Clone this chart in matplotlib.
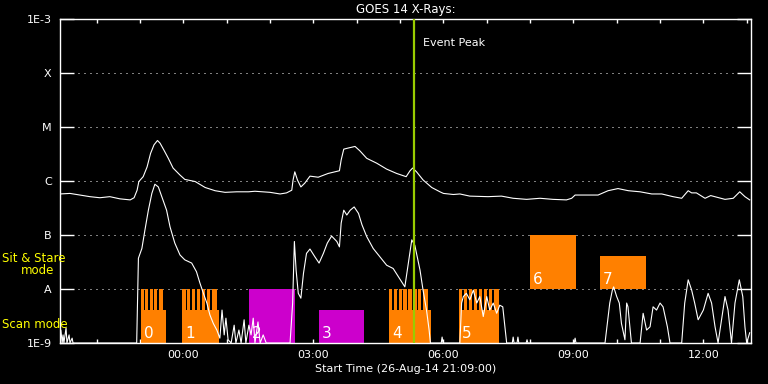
import numpy as np
import matplotlib
matplotlib.use("Agg")
import matplotlib.pyplot as plt
from matplotlib.patches import Rectangle

# time axis: hours after start time 26-Aug-14 21:09:00
start_label = "Start Time (26-Aug-14 21:09:00)"
start_hour, start_min = 21, 9
t_max = 15.95

# GOES long channel (1-8 A), log10 flux in W/m^2
long_t = [0.00, 0.23, 0.46, 0.69, 0.92, 1.15, 1.38, 1.62, 1.71, 1.78, 1.82, 1.92, 2.01, 2.09,
          2.17, 2.25, 2.31, 2.40, 2.50, 2.61, 2.77, 2.88, 3.12, 3.35, 3.58, 3.81, 4.08, 4.35,
          4.50, 4.85, 5.08, 5.23, 5.35, 5.38, 5.42, 5.48, 5.56, 5.65, 5.77, 5.96, 6.19, 6.45,
          6.49, 6.55, 6.65, 6.81, 6.92, 7.08, 7.31, 7.54, 7.77, 7.99, 8.08, 8.14, 8.23, 8.38,
          8.58, 8.77, 8.85, 9.08, 9.23, 9.46, 9.88, 10.19, 10.46, 10.77, 11.08, 11.38, 11.69,
          11.81, 11.89, 12.23, 12.42, 12.65, 12.88, 13.12, 13.39, 13.66, 13.89, 14.15, 14.35,
          14.50, 14.58, 14.69, 14.89, 15.02, 15.16, 15.35, 15.54, 15.69, 15.81, 15.92]
long_log = [-6.24, -6.23, -6.26, -6.29, -6.31, -6.29, -6.33, -6.35, -6.31, -6.17, -6.01, -5.92,
            -5.74, -5.49, -5.33, -5.25, -5.30, -5.43, -5.58, -5.76, -5.89, -5.97, -6.01, -6.12,
            -6.18, -6.21, -6.20, -6.20, -6.19, -6.21, -6.24, -6.22, -6.17, -5.98, -5.83, -5.98,
            -6.11, -6.04, -5.91, -5.93, -5.86, -5.81, -5.61, -5.41, -5.39, -5.36, -5.44, -5.58,
            -5.67, -5.78, -5.86, -5.92, -5.81, -5.76, -5.83, -5.98, -6.12, -6.20, -6.23, -6.25,
            -6.24, -6.28, -6.29, -6.28, -6.32, -6.34, -6.32, -6.34, -6.35, -6.32, -6.26, -6.26,
            -6.26, -6.18, -6.14, -6.18, -6.20, -6.24, -6.24, -6.29, -6.32, -6.18, -6.22, -6.22,
            -6.32, -6.27, -6.30, -6.34, -6.32, -6.20, -6.29, -6.35]

# GOES short channel (0.5-4 A), log10 flux in W/m^2
short_t = [0.00, 0.02, 0.05, 0.07, 0.09, 0.14, 0.16, 0.21, 0.23, 0.28, 0.30, 1.77, 1.81, 1.89,
           1.96, 2.04, 2.12, 2.19, 2.27, 2.35, 2.46, 2.54, 2.65, 2.77, 2.88, 3.04, 3.15, 3.23,
           3.31, 3.39, 3.46, 3.54, 3.62, 3.69, 3.74, 3.79, 3.83, 3.88, 3.95, 4.02, 4.06, 4.13,
           4.18, 4.25, 4.29, 4.36, 4.41, 4.46, 4.50, 4.57, 4.62, 4.69, 4.76, 5.31, 5.37, 5.41,
           5.45, 5.50, 5.56, 5.62, 5.69, 5.77, 5.88, 5.98, 6.08, 6.17, 6.27, 6.39, 6.45, 6.49,
           6.55, 6.62, 6.70, 6.79, 6.89, 6.97, 7.08, 7.23, 7.38, 7.54, 7.69, 7.81, 7.96, 8.04,
           8.12, 8.19, 8.31, 8.38, 8.46, 8.52, 8.55, 8.80, 8.82, 8.84, 9.23, 9.27, 9.31, 9.38,
           9.46, 9.54, 9.62, 9.69, 9.77, 9.85, 9.92, 10.00, 10.08, 10.15, 10.22, 10.27, 10.31,
           10.44, 10.46, 10.48, 10.55, 10.57, 10.59, 10.76, 10.78, 10.80, 11.87, 11.89, 11.91,
           12.58, 12.69, 12.75, 12.78, 12.85, 12.91, 12.96, 13.04, 13.08, 13.11, 13.19, 13.39,
           13.46, 13.54, 13.62, 13.69, 13.77, 13.85, 13.92, 14.02, 14.08, 14.35, 14.42, 14.50,
           14.58, 14.65, 14.73, 14.85, 14.96, 15.04, 15.12, 15.19, 15.27, 15.35, 15.42, 15.50,
           15.58, 15.68, 15.76, 15.81, 15.85, 15.92]
short_log = [-9.00, -8.76, -9.00, -8.85, -9.00, -8.72, -9.00, -8.85, -9.00, -8.91, -9.00, -9.00,
             -7.43, -7.25, -6.91, -6.54, -6.23, -6.06, -6.11, -6.29, -6.54, -6.85, -7.15, -7.37,
             -7.46, -7.52, -7.68, -7.89, -8.08, -8.26, -8.48, -8.64, -8.76, -8.91, -8.39, -8.85,
             -8.54, -8.94, -9.00, -8.67, -9.00, -8.76, -9.00, -8.57, -9.00, -8.67, -8.85, -8.54,
             -9.00, -8.61, -9.00, -8.85, -9.00, -9.00, -8.26, -7.12, -7.65, -8.08, -8.17, -7.71,
             -7.34, -7.26, -7.40, -7.52, -7.34, -7.15, -7.02, -7.12, -7.22, -6.78, -6.54, -6.63,
             -6.54, -6.48, -6.60, -6.81, -7.03, -7.25, -7.40, -7.56, -7.62, -7.77, -7.96, -7.52,
             -7.09, -7.19, -7.65, -8.02, -8.39, -8.76, -9.00, -9.00, -8.89, -9.00, -9.00, -8.26,
             -8.14, -8.08, -8.20, -8.02, -8.26, -8.14, -8.51, -8.14, -8.39, -8.26, -8.45, -8.30,
             -8.33, -8.70, -9.00, -9.00, -8.89, -9.00, -9.00, -8.89, -9.00, -9.00, -8.94, -9.00,
             -9.00, -8.91, -9.00, -9.00, -8.26, -8.02, -7.96, -8.14, -8.26, -8.64, -8.94, -8.26,
             -8.33, -9.00, -9.00, -8.45, -8.76, -8.70, -8.33, -8.39, -8.26, -8.33, -8.70, -9.00,
             -9.00, -8.26, -7.83, -8.02, -8.26, -8.57, -8.39, -8.08, -8.26, -8.70, -9.00, -8.57,
             -8.14, -8.39, -9.00, -8.26, -7.83, -8.14, -8.70, -9.00, -8.81]

event_peak_t = 8.16

# scan mode blocks (orange, stepped)
scan_labels = ["0", "1", "4", "5"]
scan_start = [1.87, 2.82, 7.59, 9.21]
scan_comb_end = [2.38, 3.62, 8.49, 10.13]
scan_end = [2.45, 3.66, 8.56, 10.13]
scan_steps = [5, 7, 8, 8]
scan_low_top = 4.0e-9
scan_top = 1.0e-8

# other observation blocks
other_labels = ["2", "3", "6", "7"]
other_start = [4.36, 5.98, 10.85, 12.46]
other_end = [5.42, 7.01, 11.91, 13.52]
other_bottom = [1e-9, 1e-9, 1e-8, 1e-8]
other_top = [1e-8, 4.0e-9, 1e-7, 4.07e-8]
other_color = ["#cc00cc", "#cc00cc", "#ff8000", "#ff8000"]

y_ticks = [1e-9, 1e-8, 1e-7, 1e-6, 1e-5, 1e-4, 1e-3]
y_ticklabels = ["1E-9", "A", "B", "C", "M", "X", "1E-3"]

ORANGE = "#ff8000"
plt.rcParams["font.family"] = ["DejaVu Sans"]

fig = plt.figure(figsize=(7.68, 3.84), dpi=100, facecolor="black")
ax = fig.add_axes([60 / 768, 41 / 384, 691 / 768, 324 / 384], facecolor="black")
ax.set_yscale("log")
ax.set_xlim(0, t_max)
ax.set_ylim(1e-9, 1e-3)

# dotted lines at the flare class levels
for yv in y_ticks[1:-1]:
    ax.axhline(yv, color="white", lw=0.72, ls=(0, (1, 5)), zorder=1)

# scan mode blocks: comb on top, solid part below
for lab, s, ce, e, n in zip(scan_labels, scan_start, scan_comb_end, scan_end, scan_steps):
    ax.add_patch(Rectangle((s, 1e-9), e - s, scan_low_top - 1e-9, color=ORANGE, lw=0,
                           antialiased=False, zorder=2))
    step = (ce - s) / n
    for k in range(n):
        x0 = s + k * step
        w = step * 0.68 if k < n - 1 else step
        ax.add_patch(Rectangle((x0, scan_low_top), w, scan_top - scan_low_top,
                               color=ORANGE, lw=0, antialiased=False, zorder=2))
    ax.text(s + 0.07, 1.25e-9, lab, color="white", fontsize=11, zorder=5)

for lab, s, e, b, tp, c in zip(other_labels, other_start, other_end, other_bottom, other_top, other_color):
    ax.add_patch(Rectangle((s, b), e - s, tp - b, color=c, lw=0, antialiased=False, zorder=2))
    ax.text(s + 0.07, b * 1.25, lab, color="white", fontsize=11, zorder=5)

ax.plot(long_t, 10 ** np.array(long_log), color="white", lw=0.8, zorder=3)
ax.plot(short_t, 10 ** np.array(short_log), color="white", lw=0.8, zorder=3)

ax.axvline(event_peak_t, color="#99cc00", lw=1.6, zorder=4)
ax.text(event_peak_t + 0.23, 3.6e-4, "Event Peak", color="white", fontsize=8, va="center")

# axes styling
for sp in ax.spines.values():
    sp.set_color("white")
    sp.set_linewidth(1)

ax.set_yticks(y_ticks)
ax.set_yticklabels(y_ticklabels)
ax.yaxis.set_minor_locator(matplotlib.ticker.NullLocator())
ax.tick_params(axis="y", which="major", direction="in", length=10, width=1, color="white",
               labelcolor="white", labelsize=8, left=True, right=True, pad=6)

first_hour = (60 - start_min) / 60.0
hour_ticks = np.arange(first_hour, t_max, 1.0)
ax.set_xticks(hour_ticks)
labels = []
for h in hour_ticks:
    clock = int(round(start_hour + start_min / 60.0 + h)) % 24
    labels.append(f"{clock:02d}:00" if clock % 3 == 0 else "")
ax.set_xticklabels(labels)
ax.tick_params(axis="x", which="major", direction="in", length=3, width=1, color="white",
               labelcolor="white", labelsize=8, top=True, bottom=True, pad=5)
ax.set_xlabel(start_label, color="white", fontsize=8, labelpad=3)
ax.set_title("GOES 14 X-Rays:", color="white", fontsize=8.5, pad=4)

fig.text(2 / 768, 1 - 258 / 384, "Sit & Stare", color="yellow", fontsize=8.5, va="center")
fig.text(38 / 768, 1 - 271 / 384, "mode", color="yellow", fontsize=8.5, va="center", ha="center")
fig.text(2 / 768, 1 - 324 / 384, "Scan mode", color="yellow", fontsize=8.5, va="center")

fig.savefig("out.png", dpi=100, facecolor="black")
